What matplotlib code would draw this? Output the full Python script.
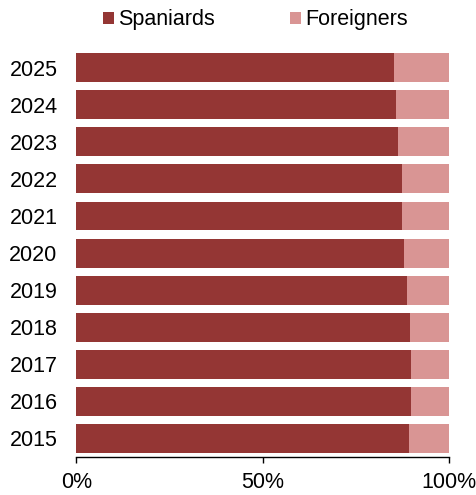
import numpy as np
import matplotlib
matplotlib.use("Agg")
import matplotlib.pyplot as plt
from matplotlib.ticker import PercentFormatter

plt.rcParams['font.family'] = ['Liberation Sans', 'DejaVu Sans']

years = ["2015", "2016", "2017", "2018", "2019", "2020",
         "2021", "2022", "2023", "2024", "2025"]
spaniards = [89.2, 89.7, 89.7, 89.5, 88.7, 87.9, 87.3, 87.4, 86.3, 85.7, 85.2]
foreigners = [100 - s for s in spaniards]

dark = "#943634"
light = "#D99594"

fig = plt.figure(figsize=(4.77, 4.95), dpi=100)
ax = fig.add_axes([0.16, 0.0768, 0.782, 0.824])

y = np.arange(len(years))
ax.barh(y, spaniards, height=0.78, color=dark, label="Spaniards")
ax.barh(y, foreigners, left=spaniards, height=0.78, color=light, label="Foreigners")

ax.set_xlim(0, 100)
ax.set_ylim(-0.5, len(years) - 0.5)
ax.set_yticks(y)
ax.set_yticklabels(years, fontsize=15.5)
ax.tick_params(axis='y', length=0, pad=13.5)
ax.set_xticks([0, 50, 100])
ax.xaxis.set_major_formatter(PercentFormatter(decimals=0))
ax.tick_params(axis='x', labelsize=15.5, length=4.5, direction='out', width=1, pad=6)

for s in ['top', 'right', 'left']:
    ax.spines[s].set_visible(False)
ax.spines['bottom'].set_linewidth(1)

fig.legend(loc='upper center', bbox_to_anchor=(0.535, 1.02), ncol=2, frameon=False,
           fontsize=15.5, handlelength=0.5, handleheight=0.5, handletextpad=0.2,
           columnspacing=3.5)

fig.savefig("out.png", dpi=100)
